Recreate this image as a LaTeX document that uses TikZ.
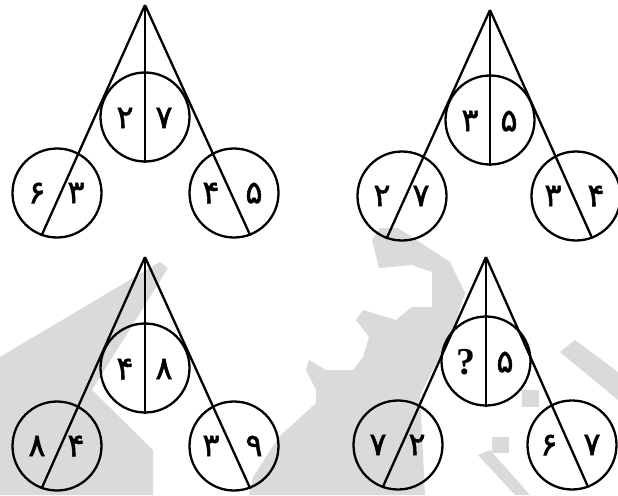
\documentclass[tikz,border=0pt]{standalone}
\usepackage{fontspec}
\newfontfamily\fadigits[Script=Arabic,FakeBold=1.6]{DejaVu Sans}
\newfontfamily\qfont{Liberation Serif}
\usetikzlibrary{calc}
\definecolor{wm}{RGB}{218,218,218}
\tikzset{
  x=1pt, y=-1pt,
  ring/.style={circle, draw=black, line width=2.3pt, minimum size=89pt, inner sep=0pt},
  edge/.style={draw=black, line width=2.3pt},
  digit/.style={inner sep=0pt, font=\fadigits\fontsize{32}{32}\selectfont},
  wmark/.style={fill=wm, draw=none}
}
\newcommand{\qm}{{\qfont\bfseries\fontsize{38}{38}\selectfont ?}}
% #1 name, #2 x, #3 y, #4 #5 centre digits, #6 #7 left, #8 #9 right
\newcommand{\mytree}[9]{%
  \coordinate (#1a) at (#2,#3);
  \node[ring] (#1c) at ($(#1a)+(0,\cy)$) {};
  \node[ring] (#1l) at ($(#1a)+(-88,\ly)$) {};
  \node[ring] (#1r) at ($(#1a)+(\rx,\ly)$) {};
  \draw[edge] (#1a) -- (#1c.south);
  \draw[edge] (#1a) -- (#1l.250);
  \draw[edge] (#1a) -- (#1r.291);
  \node[digit] (#1c1) at ($(#1c)+(-20,1)$) {#4};
  \node[digit] (#1c2) at ($(#1c)+(19,1)$) {#5};
  \node[digit] (#1l1) at ($(#1l)+(-20,0)$) {#6};
  \node[digit] (#1l2) at ($(#1l)+(19,0)$) {#7};
  \node[digit] (#1r1) at ($(#1r)+(-23,0)$) {#8};
  \node[digit] (#1r2) at ($(#1r)+(20,0)$) {#9};
}
\begin{document}
\begin{tikzpicture}
\useasboundingbox[fill=white] (0,0) rectangle (618,495);
% watermark
\path[wmark] (0,357) -- (160,262) -- (168,268) -- (92,390) -- (153,450) -- (153,495) -- (0,495) -- cycle;
\path[wmark] (249,495) -- (253,477) -- (279,437) -- (316,403) -- (316,390) -- (306,370) -- (309,360)
  -- (326,370) -- (353,370) -- (363,357) -- (369,337) -- (356,320) -- (363,310) -- (396,320)
  -- (412,307) -- (432,307) -- (432,272) -- (412,265) -- (379,268) -- (372,240) -- (380,228)
  -- (398,228) -- (450,262) -- (465,293) -- (452,333) -- (420,395) -- (425,495) -- cycle;
\path[wmark] (560,352) -- (575,340) -- (618,372) -- (618,400) -- cycle;
\path[wmark] (492,437) rectangle (509,453);
\path[wmark] (522,390) rectangle (539,407);
\path[wmark] (478,455) -- (490,450) -- (530,495) -- (515,495) -- cycle;
% trees
\def\cy{112}\def\ly{188}\def\rx{89}
\mytree{p}{145}{5}{۲}{۷}{۶}{۳}{۴}{۵}
\def\cy{110}\def\ly{186}\def\rx{86}
\mytree{q}{490}{10}{۳}{۵}{۲}{۷}{۳}{۴}
\def\cy{111}\def\ly{189}\def\rx{89}
\mytree{s}{145}{257}{۴}{۸}{۸}{۴}{۳}{۹}
\def\cy{104}\def\ly{188}\def\rx{86}
\mytree{t}{486}{257}{\qm}{۵}{۷}{۲}{۶}{۷}
\end{tikzpicture}
\end{document}
